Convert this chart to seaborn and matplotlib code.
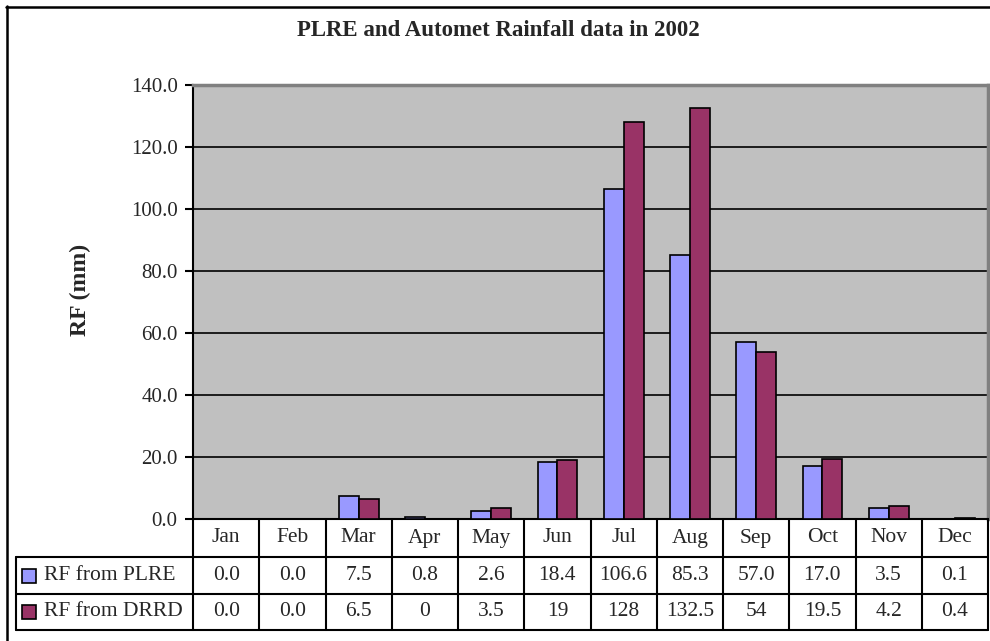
import matplotlib
matplotlib.use("Agg")
import matplotlib.pyplot as plt
import matplotlib.transforms as mtransforms
from matplotlib.lines import Line2D
from matplotlib.patches import Rectangle
import pandas as pd
import seaborn as sns

months = ["Jan", "Feb", "Mar", "Apr", "May", "Jun", "Jul", "Aug", "Sep", "Oct", "Nov", "Dec"]
series_names = ["RF from PLRE", "RF from DRRD"]
plre = [0.0, 0.0, 7.5, 0.8, 2.6, 18.4, 106.6, 85.3, 57.0, 17.0, 3.5, 0.1]
drrd = [0.0, 0.0, 6.5, 0.0, 3.5, 19.0, 128.0, 132.5, 54.0, 19.5, 4.2, 0.4]
# the data table shows DRRD values as they were typed in the sheet
drrd_text = ["0.0", "0.0", "6.5", "0", "3.5", "19", "128", "132.5", "54", "19.5", "4.2", "0.4"]
plre_text = [f"{v:.1f}" for v in plre]
colors = ["#9999FF", "#993366"]

df = pd.DataFrame({
    "month": months * 2,
    "rf": plre + drrd,
    "series": [series_names[0]] * 12 + [series_names[1]] * 12,
})

sns.set_style("white")
plt.rcParams["font.family"] = ["Liberation Serif", "DejaVu Serif"]

W, H = 990, 641
fig = plt.figure(figsize=(W / 100, H / 100), dpi=100)


def fx(x):
    return x / W


def fy(y):
    return 1 - y / H


# plot area in pixel coordinates of the reference
left, right, top, bottom = 193, 988, 85, 519
ax = fig.add_axes([fx(left), fy(bottom), fx(right - left), (bottom - top) / H])
ax.set_facecolor("#C0C0C0")

sns.barplot(data=df, x="month", y="rf", hue="series", palette=colors,
            saturation=1, width=0.6, edgecolor="black", linewidth=1.2,
            legend=False, ax=ax, zorder=3)

ax.set_xlim(-0.5, 11.5)
ax.set_ylim(0, 140)
ax.set_yticks(range(0, 141, 20))
ax.set_yticklabels([f"{v:.1f}" for v in range(0, 141, 20)], fontsize=15)
ax.set_xticks([])
ax.set_xlabel("")
ax.set_ylabel("")
ax.tick_params(axis="y", direction="out", length=6, width=1.5, color="black",
               pad=5, left=True)
ax.yaxis.grid(True, color="black", linewidth=1.2, zorder=1)
ax.set_axisbelow(True)

for s in ["left", "bottom"]:
    ax.spines[s].set_color("black")
    ax.spines[s].set_linewidth(1.5)
ax.spines["top"].set_color("#808080")
ax.spines["top"].set_linewidth(2.5)
ax.spines["right"].set_color("#808080")
ax.spines["right"].set_linewidth(2.5)

# title and axis label
fig.text(fx(498), fy(30), "PLRE and Automet Rainfall data in 2002",
         ha="center", va="center", fontsize=16.5, fontweight="bold")
fig.text(fx(80), fy(290), "RF (mm)", ha="center", va="center",
         rotation=90, fontsize=17, fontweight="bold")

# data table under the axes, columns follow the category axis
trans = mtransforms.blended_transform_factory(ax.transData, fig.transFigure)
lw = 1.5
for y in [557, 594, 630]:
    fig.add_artist(Line2D([fx(16), fx(right)], [fy(y), fy(y)],
                          color="black", lw=lw))
fig.add_artist(Line2D([fx(16), fx(16)], [fy(557), fy(630)], color="black", lw=lw))
for i in range(13):
    fig.add_artist(Line2D([i - 0.5, i - 0.5], [fy(519), fy(630)],
                          transform=trans, color="black", lw=lw, clip_on=False))

fs = 15.5
for i, m in enumerate(months):
    fig.text(i, fy(538), m, transform=trans, ha="center", va="center", fontsize=fs)
    fig.text(i, fy(575.5), plre_text[i], transform=trans, ha="center",
             va="center", fontsize=fs)
    fig.text(i, fy(612), drrd_text[i], transform=trans, ha="center",
             va="center", fontsize=fs)

for name, c, yc in zip(series_names, colors, [575.5, 612]):
    fig.add_artist(Rectangle((fx(22), fy(yc + 7)), 14 / W, 14 / H,
                             facecolor=c, edgecolor="black", lw=1.2))
    fig.text(fx(44), fy(yc), name, ha="left", va="center", fontsize=fs)

# chart border (clipped on the right and bottom in the reference)
fig.add_artist(Line2D([fx(6), 1], [fy(7), fy(7)], color="black", lw=1.8))
fig.add_artist(Line2D([fx(7), fx(7)], [fy(6), 0], color="black", lw=1.8))

fig.savefig("out.png", dpi=100)
plt.close(fig)
